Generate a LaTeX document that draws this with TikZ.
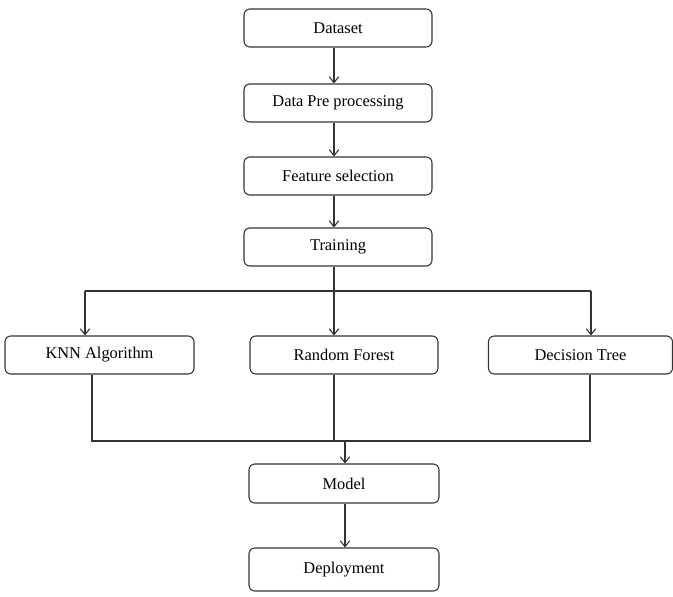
\documentclass[tikz,border=0pt]{standalone}
\usepackage{fontspec}
\setmainfont{Liberation Serif}
\usetikzlibrary{arrows.meta}
\tikzset{
  box/.style={draw=black!80, line width=0.9pt, rounded corners=5pt, minimum width=5.64cm, minimum height=1.14cm, font=\fontsize{14}{16}\selectfont, inner sep=0pt},
  link/.style={draw=black!80, line width=0.9pt},
  arr/.style={link, -{Straight Barb[length=5pt,width=8pt]}}
}
\begin{document}
\begin{tikzpicture}[x=0.03cm,y=-0.03cm]
\useasboundingbox (0,0) rectangle (673,597);
\node[box] (dataset) at (338,28) {Dataset}; % top
\node[box, below of = dataset, node distance=2.25cm] (prep) {Data Pre processing};
\node[box, below of = prep, node distance=2.19cm] (feat) {Feature selection};
\node[box, below of = feat, node distance=2.13cm] (train) {Training};

\node[box, minimum width=5.67cm] (knn) at (99.5,355) {KNN Algorithm};
\node[box] (rf) at (344,355) {Random Forest};
\node[box, minimum width=5.52cm] (dt) at (580.5,355) {Decision Tree};

\node[box, minimum width=5.7cm, minimum height=1.17cm] (model) at (344,483.5) {Model};
\node[box, minimum width=5.7cm, minimum height=1.29cm] (deploy) at (344,569.5) {Deployment};

\coordinate (spine) at (334,0);
\coordinate (split) at (334,291);
\coordinate (splitL) at (85,291);
\coordinate (splitR) at (591,291);
\coordinate (joinL) at (92,441);
\coordinate (joinM) at (334,441);
\coordinate (joinR) at (590,441);
\coordinate (joinO) at (345,441);

\draw[arr] (dataset.south -| spine) -- (prep.north -| spine);
\draw[arr] (prep.south -| spine) -- (feat.north -| spine);
\draw[arr] (feat.south -| spine) -- (train.north -| spine);
\draw[link] (train.south -| spine) -- (split);
\draw[link] (splitL) -- (splitR);
\draw[arr] (splitL) -- (knn.north -| splitL);
\draw[arr] (split) -- (rf.north -| split);
\draw[arr] (splitR) -- (dt.north -| splitR);

\draw[link] (knn.south -| joinL) -- (joinL) -- (joinR) -- (dt.south -| joinR);
\draw[link] (rf.south -| joinM) -- (joinM);
\draw[arr] (joinO) -- (model.north -| joinO);
\draw[arr] (model.south -| joinO) -- (deploy.north -| joinO);
\end{tikzpicture}
\end{document}
